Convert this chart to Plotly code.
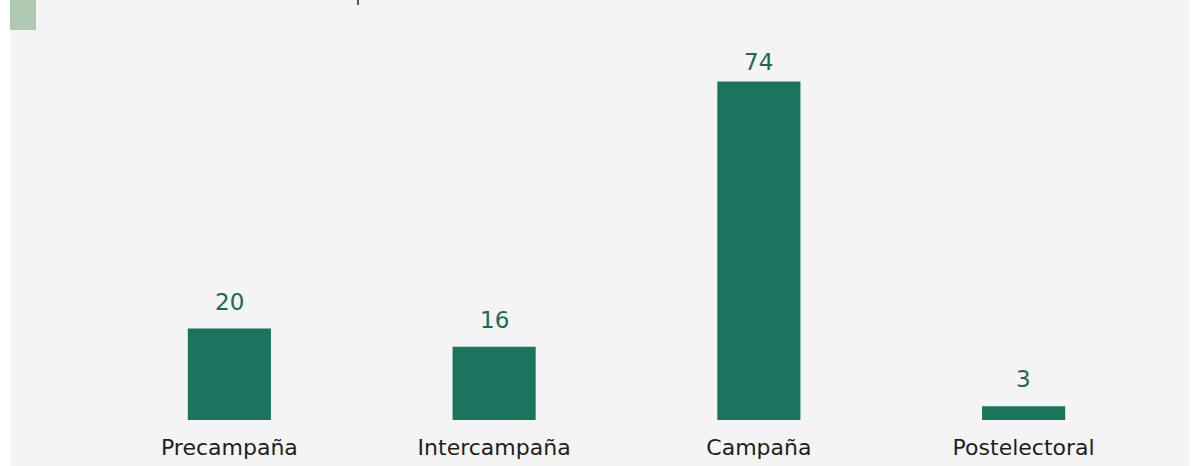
import plotly.graph_objects as go

categories = ["Precampaña", "Intercampaña", "Campaña", "Postelectoral"]
values = [20, 16, 74, 3]
value_labels = [str(v) for v in values]

W, H = 1195, 466
L, R, T, B = 97, 39, 54, 46
pw = W - L - R
ph = H - T - B
YMAX = 80

def px_x(p):
    return (p - L) / pw

def px_y(p):
    return (H - B - p) / ph

bar_color = "#1b755e"
label_color = "#1c6a54"
VAL_FONT = 23
DIGIT_H = 17      # approx rendered digit height
DESC = 6          # space below digit baseline inside annotation box
GAP = 18          # preferred gap between label and bar top

fig = go.Figure(
    go.Bar(
        x=categories,
        y=values,
        marker=dict(color=bar_color, line=dict(width=0)),
        width=0.314,
        hoverinfo="skip",
    )
)

# value labels above bars, kept inside the plot area
annotations = []
for c, v, t in zip(categories, values, value_labels):
    bar_top_px = T + (YMAX - v) / YMAX * ph
    gap = min(GAP, bar_top_px - T - DIGIT_H)
    annotations.append(dict(
        x=c, y=v, xref="x", yref="y", text=t, showarrow=False,
        yanchor="bottom", xanchor="center", yshift=gap - DESC,
        font=dict(family="DejaVu Sans", size=VAL_FONT, color=label_color),
    ))

shapes = [
    dict(type="rect", xref="paper", yref="paper", x0=px_x(10), x1=px_x(1189),
         y0=px_y(466), y1=px_y(0), fillcolor="#f4f4f4", line=dict(width=0), layer="below"),
    dict(type="rect", xref="paper", yref="paper", x0=px_x(10), x1=px_x(36),
         y0=px_y(30), y1=px_y(0), fillcolor="#afc9b3", line=dict(width=0), layer="below"),
    dict(type="rect", xref="paper", yref="paper", x0=px_x(357), x1=px_x(359),
         y0=px_y(5), y1=px_y(0), fillcolor="#2a6e5a", line=dict(width=0), layer="below"),
]

fig.update_layout(
    width=W, height=H,
    margin=dict(l=L, r=R, t=T, b=B, pad=0, autoexpand=False),
    paper_bgcolor="white",
    plot_bgcolor="rgba(0,0,0,0)",
    showlegend=False,
    shapes=shapes,
    annotations=annotations,
    bargap=0.686,
    xaxis=dict(showgrid=False, showline=False, ticks="", zeroline=False,
               automargin=False,
               tickfont=dict(family="DejaVu Sans", size=22, color="#1e1e1e"),
               ticklabelstandoff=12),
    yaxis=dict(range=[0, YMAX], visible=False, showgrid=False, zeroline=False,
               automargin=False),
)

fig.write_html(
    "out.html",
    config={"displayModeBar": False},
    post_script="document.body.style.margin='0';document.body.style.padding='0';",
)
